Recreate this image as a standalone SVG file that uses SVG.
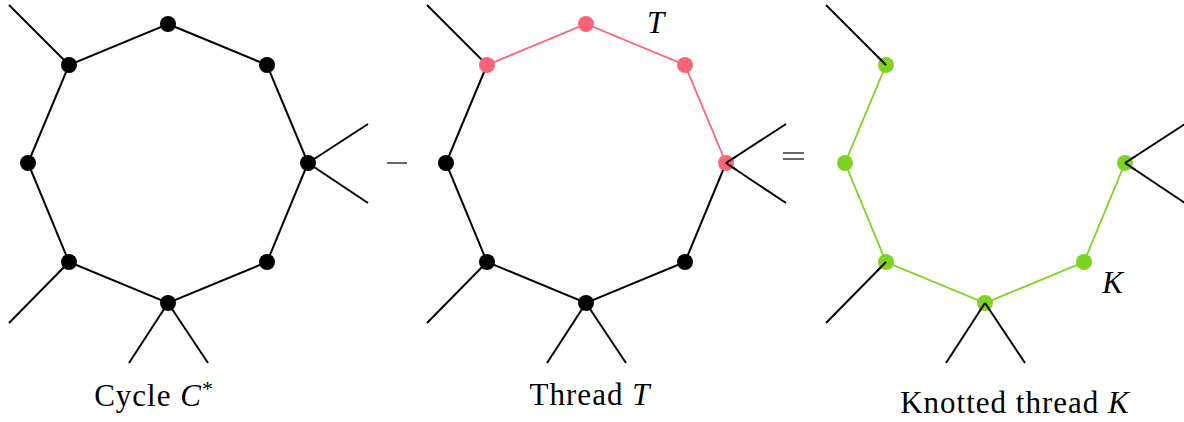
<svg xmlns="http://www.w3.org/2000/svg" width="1184" height="422" viewBox="0 0 1184 422">
<style>
.e{stroke:#000;stroke-width:2;fill:none;stroke-linecap:butt}
.ep{stroke:#fa6479;stroke-width:1.8;fill:none}
.eg{stroke:#7ed321;stroke-width:1.8;fill:none}
.nb{fill:#000}
.np{fill:#fa6479}
.ng{fill:#7ed321}
.t{font-family:"Liberation Serif","DejaVu Serif",serif;font-size:31px;fill:#000;letter-spacing:1px}
.i{font-style:italic}
.op{stroke:#444;stroke-width:1.6}
</style>
<rect width="1184" height="422" fill="#fff"/>
<g id="connectors">
  <g id="c1">
    <polygon class="e" points="168,24 267,65 308,163 267,262 168,303 69,262 28,163 69,65"/>
    <line class="e" x1="69" y1="65" x2="9" y2="5"/>
    <line class="e" x1="308" y1="163" x2="368" y2="124"/>
    <line class="e" x1="308" y1="163" x2="368" y2="203"/>
    <line class="e" x1="69" y1="262" x2="9" y2="323"/>
    <line class="e" x1="168" y1="303" x2="129" y2="363"/>
    <line class="e" x1="168" y1="303" x2="208" y2="363"/>
  </g>
  <g id="c2">
    <polyline class="e" points="726,163 685,262 586,303 487,262 446,163 487,65"/>
    <polyline class="ep" points="487,65 586,24 685,65 726,163"/>
    <line class="e" x1="487" y1="65" x2="427" y2="5"/>
    <line class="e" x1="726" y1="163" x2="786" y2="124"/>
    <line class="e" x1="726" y1="163" x2="786" y2="203"/>
    <line class="e" x1="487" y1="262" x2="427" y2="323"/>
    <line class="e" x1="586" y1="303" x2="547" y2="363"/>
    <line class="e" x1="586" y1="303" x2="626" y2="363"/>
  </g>
  <g id="c3">
    <polyline class="eg" points="886,65 845,163 886,262 985,303 1084,262 1125,163"/>
    <line class="e" x1="886" y1="65" x2="826" y2="5"/>
    <line class="e" x1="1125" y1="163" x2="1185" y2="124"/>
    <line class="e" x1="1125" y1="163" x2="1185" y2="203"/>
    <line class="e" x1="886" y1="262" x2="826" y2="323"/>
    <line class="e" x1="985" y1="303" x2="946" y2="363"/>
    <line class="e" x1="985" y1="303" x2="1025" y2="363"/>
  </g>
</g>
<g id="cycle">
  <circle class="nb" cx="168" cy="24" r="8"/>
  <circle class="nb" cx="267" cy="65" r="8"/>
  <circle class="nb" cx="308" cy="163" r="8"/>
  <circle class="nb" cx="267" cy="262" r="8"/>
  <circle class="nb" cx="168" cy="303" r="8"/>
  <circle class="nb" cx="69" cy="262" r="8"/>
  <circle class="nb" cx="28" cy="163" r="8"/>
  <circle class="nb" cx="69" cy="65" r="8"/>
  <text class="t" x="154" y="406" text-anchor="middle">Cycle <tspan class="i">C</tspan><tspan font-size="22" dy="-10">*</tspan></text>
</g>
<g id="minus"><line class="op" x1="387" y1="163" x2="407" y2="163"/></g>
<g id="thread">
  <circle class="np" cx="586" cy="24" r="8"/>
  <circle class="np" cx="685" cy="65" r="8"/>
  <circle class="np" cx="726" cy="163" r="8"/>
  <circle class="nb" cx="685" cy="262" r="8"/>
  <circle class="nb" cx="586" cy="303" r="8"/>
  <circle class="nb" cx="487" cy="262" r="8"/>
  <circle class="nb" cx="446" cy="163" r="8"/>
  <circle class="np" cx="487" cy="65" r="8"/>
  <line class="e" x1="726" y1="163" x2="736" y2="156.5"/>
  <line class="e" x1="726" y1="163" x2="736" y2="169.7"/>
  <text class="t i" x="656" y="33" text-anchor="middle">T</text>
  <text class="t" x="590" y="405" text-anchor="middle">Thread <tspan class="i">T</tspan></text>
</g>
<g id="equals">
  <line class="op" x1="783" y1="153" x2="804" y2="153"/>
  <line class="op" x1="783" y1="159" x2="804" y2="159"/>
</g>
<g id="knotted">
  <circle class="ng" cx="886" cy="65" r="8"/>
  <circle class="ng" cx="845" cy="163" r="8"/>
  <circle class="ng" cx="886" cy="262" r="8"/>
  <circle class="ng" cx="985" cy="303" r="8"/>
  <circle class="ng" cx="1084" cy="262" r="8"/>
  <circle class="ng" cx="1125" cy="163" r="8"/>
  <line class="e" x1="886" y1="65" x2="878" y2="57"/>
  <line class="e" x1="886" y1="262" x2="878" y2="270"/>
  <line class="e" x1="985" y1="303" x2="980" y2="310.5"/>
  <line class="e" x1="985" y1="303" x2="990" y2="310.5"/>
  <line class="e" x1="1125" y1="163" x2="1135" y2="156.5"/>
  <line class="e" x1="1125" y1="163" x2="1135" y2="169.7"/>
  <text class="t i" x="1113" y="293" text-anchor="middle">K</text>
  <text class="t" x="1015" y="413" text-anchor="middle">Knotted thread <tspan class="i">K</tspan></text>
</g>
</svg>
